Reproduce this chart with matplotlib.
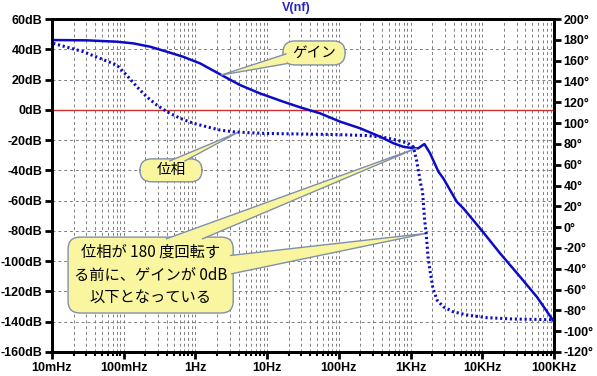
import numpy as np
import matplotlib.pyplot as plt
from matplotlib.patches import FancyBboxPatch, Polygon
from matplotlib.ticker import FixedLocator, NullFormatter

# gain curve (Hz, dB)
gain_f = [0.0104, 0.0305, 0.08, 0.136, 0.233, 0.40, 0.67, 1.16, 2.3, 4.17, 7.9, 16.7, 28.6,
          54.6, 104, 198, 378, 578, 788, 1090, 1280, 1560, 1870, 2445, 2866, 4405,
          5445, 9300, 17700, 33650, 57500, 100000]
gain_db = [46.1, 45.9, 45.0, 43.9, 41.7, 38.4, 35.1, 30.7, 23.0, 16.4, 10.9, 5.4, 1.7,
           -2.3, -7.8, -12.2, -17.8, -22.1, -24.4, -25.4, -25.4, -22.6, -28.7, -40.9, -45.3, -60.7,
           -65.1, -78.3, -94.8, -110.3, -123.5, -140.0]

# phase curve (Hz, deg)
phase_f = [0.0104, 0.0273, 0.0467, 0.0798, 0.110, 0.152, 0.209, 0.288, 0.398, 0.610, 0.934,
           1.43, 2.19, 3.34, 5.7, 9.8, 29, 83.8, 245, 416, 634, 889, 1090, 1210, 1280, 1380,
           1450, 1480, 1570, 1650, 1750, 1860, 2050, 2350, 2860, 3900, 6200, 11500, 27000, 100000]
phase_deg = [176.6, 168.6, 162.2, 155.8, 146.0, 135.0, 125.3, 117.4, 111.0, 104.6, 99.8,
             96.5, 93.3, 91.7, 90.7, 90.0, 89.5, 89.0, 88.0, 86.3, 83.7, 81.0, 77.3, 64.5, 55.0, 42.0,
             35.7, 31.0, 7.0, -6.0, -28.4, -41.2, -58.8, -70.3, -76.5, -81.3, -84.5, -87.0, -88.3, -89.0]

x_ticks = [0.01, 0.1, 1, 10, 100, 1000, 10000, 100000]
x_labels = ['10mHz', '100mHz', '1Hz', '10Hz', '100Hz', '1KHz', '10KHz', '100KHz']
db_ticks = list(range(-160, 61, 20))
deg_ticks = list(range(-120, 201, 20))

blue = '#0c0cc8'
yellow = '#faf6a0'
edge = '#8090a8'
tick_font = dict(family='Liberation Sans', weight='bold', size=9)
jp = ['Noto Sans CJK JP', 'DejaVu Sans']

fig = plt.figure(figsize=(5.97, 3.76), dpi=100)
ax = fig.add_axes([52/597, 1-352/376, 502/597, 333/376])
ax2 = ax.twinx()

ax.set_xscale('log')
ax.set_xlim(0.01, 100000)
ax.set_ylim(-160, 60)
ax2.set_ylim(-120, 200)

minors = [m * 10.0**e for e in range(-2, 5) for m in range(2, 10)]
ax.xaxis.set_major_locator(FixedLocator(x_ticks))
ax.xaxis.set_minor_locator(FixedLocator(minors))
ax.xaxis.set_minor_formatter(NullFormatter())
ax.set_xticklabels(x_labels, fontdict=tick_font)
ax.set_yticks(db_ticks)
ax.set_yticklabels(['%ddB' % v for v in db_ticks], fontdict=tick_font)
ax2.set_yticks(deg_ticks)
ax2.set_yticklabels(['%d°' % v for v in deg_ticks], fontdict=tick_font)

ax.tick_params(axis='both', which='major', length=5, width=2, direction='out', pad=2)
ax.tick_params(axis='x', which='minor', length=3, width=1.5, direction='out')
ax2.tick_params(axis='y', length=5, width=2, direction='out', pad=2)
for a in (ax, ax2):
    for s in a.spines.values():
        s.set_linewidth(2)

ax.grid(True, which='both', axis='x', color='#808080', linestyle=(0, (3, 3)), linewidth=0.7)
ax.grid(True, which='major', axis='y', color='#808080', linestyle=(0, (3, 3)), linewidth=0.7)

ax.axhline(0, color='#c83030', linewidth=1, zorder=2)
ax.plot(gain_f, gain_db, color=blue, linewidth=1.8, zorder=3)
ax2.plot(phase_f, phase_deg, color=blue, linewidth=2.2, linestyle=(0, (0.7, 0.9)), zorder=3)

fig.text(0.496, 0.978, 'V(nf)', color='#2525c0', fontsize=9, fontweight='bold',
         family='Liberation Sans', ha='center', va='center')

# callouts
to_ax = ax.transAxes.inverted()


def tip(a, x, y):
    return to_ax.transform(a.transData.transform((x, y)))


def callout(box, text, wedges, fs=10.5):
    x0, y0, x1, y1 = box
    ax.add_patch(FancyBboxPatch((x0, y0), x1 - x0, y1 - y0,
                                boxstyle='round,pad=0,rounding_size=0.024',
                                mutation_aspect=502/333, transform=ax.transAxes,
                                facecolor=yellow, edgecolor=edge, linewidth=1,
                                zorder=6, clip_on=False))
    for b1, b2, t in wedges:
        ax.add_patch(Polygon([b1, t, b2], closed=True, transform=ax.transAxes,
                             facecolor=yellow, edgecolor='none', zorder=7, clip_on=False))
        ax.plot([b1[0], t[0], b2[0]], [b1[1], t[1], b2[1]], color=edge, linewidth=1,
                transform=ax.transAxes, zorder=7, clip_on=False)
    ax.text((x0 + x1) / 2, (y0 + y1) / 2, text, transform=ax.transAxes, ha='center',
            va='center', fontsize=fs, family=jp, linespacing=1.45, zorder=8)


callout((0.460, 0.862, 0.584, 0.934), 'ゲイン',
        [((0.466, 0.895), (0.468, 0.866), tip(ax, 2.3, 23.0))])
callout((0.175, 0.511, 0.299, 0.580), '位相',
        [((0.235, 0.574), (0.265, 0.574), tip(ax2, 3.9, 91.0))])
callout((0.032, 0.117, 0.361, 0.345), '位相が 180 度回転す\nる前に、ゲインが 0dB\n以下となっている',
        [((0.228, 0.340), (0.300, 0.340), tip(ax, 1200, -25.4)),
         ((0.356, 0.290), (0.358, 0.235), tip(ax2, 1650, -6.0))], fs=11)

fig.savefig('out.png', dpi=100)
